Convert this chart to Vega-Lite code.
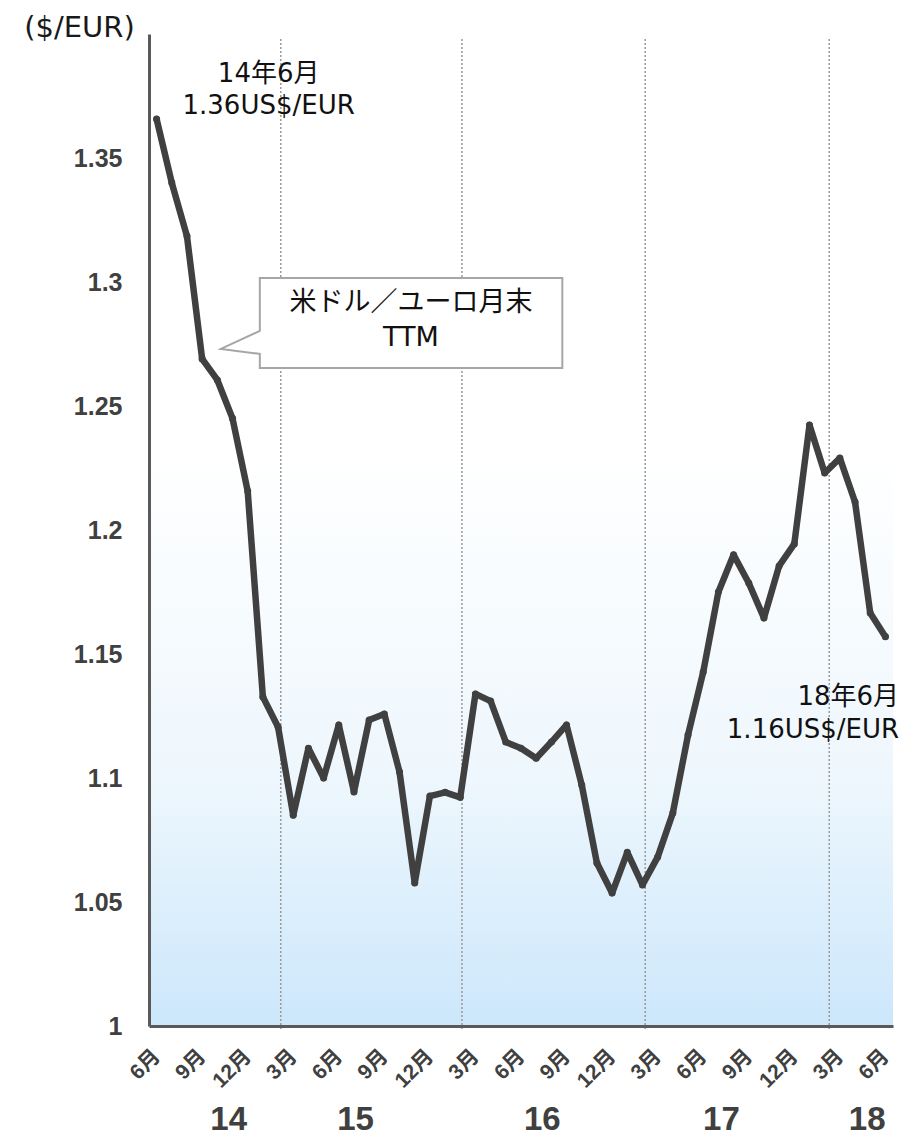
{
  "$schema": "https://vega.github.io/schema/vega-lite/v6.json",
  "width": 744,
  "height": 992,
  "autosize": {"type": "none"},
  "padding": {"left": 149, "top": 34, "right": 21, "bottom": 115},
  "background": "white",
  "config": {"view": {"stroke": null}},
  "datasets": {
    "rate": [
      {"ym": "2014-06", "i": 0, "v": 1.3657},
      {"ym": "2014-07", "i": 1, "v": 1.340},
      {"ym": "2014-08", "i": 2, "v": 1.3185},
      {"ym": "2014-09", "i": 3, "v": 1.269},
      {"ym": "2014-10", "i": 4, "v": 1.2605},
      {"ym": "2014-11", "i": 5, "v": 1.245},
      {"ym": "2014-12", "i": 6, "v": 1.2157},
      {"ym": "2015-01", "i": 7, "v": 1.1327},
      {"ym": "2015-02", "i": 8, "v": 1.1206},
      {"ym": "2015-03", "i": 9, "v": 1.085},
      {"ym": "2015-04", "i": 10, "v": 1.112},
      {"ym": "2015-05", "i": 11, "v": 1.100},
      {"ym": "2015-06", "i": 12, "v": 1.1214},
      {"ym": "2015-07", "i": 13, "v": 1.0944},
      {"ym": "2015-08", "i": 14, "v": 1.1234},
      {"ym": "2015-09", "i": 15, "v": 1.1258},
      {"ym": "2015-10", "i": 16, "v": 1.1024},
      {"ym": "2015-11", "i": 17, "v": 1.0577},
      {"ym": "2015-12", "i": 18, "v": 1.0927},
      {"ym": "2016-01", "i": 19, "v": 1.0942},
      {"ym": "2016-02", "i": 20, "v": 1.0922},
      {"ym": "2016-03", "i": 21, "v": 1.1339},
      {"ym": "2016-04", "i": 22, "v": 1.131},
      {"ym": "2016-05", "i": 23, "v": 1.1145},
      {"ym": "2016-06", "i": 24, "v": 1.112},
      {"ym": "2016-07", "i": 25, "v": 1.108},
      {"ym": "2016-08", "i": 26, "v": 1.1145},
      {"ym": "2016-09", "i": 27, "v": 1.1214},
      {"ym": "2016-10", "i": 28, "v": 1.0972},
      {"ym": "2016-11", "i": 29, "v": 1.0657},
      {"ym": "2016-12", "i": 30, "v": 1.0536},
      {"ym": "2017-01", "i": 31, "v": 1.070},
      {"ym": "2017-02", "i": 32, "v": 1.0569},
      {"ym": "2017-03", "i": 33, "v": 1.0681},
      {"ym": "2017-04", "i": 34, "v": 1.0859},
      {"ym": "2017-05", "i": 35, "v": 1.1173},
      {"ym": "2017-06", "i": 36, "v": 1.1427},
      {"ym": "2017-07", "i": 37, "v": 1.175},
      {"ym": "2017-08", "i": 38, "v": 1.190},
      {"ym": "2017-09", "i": 39, "v": 1.1786},
      {"ym": "2017-10", "i": 40, "v": 1.1645},
      {"ym": "2017-11", "i": 41, "v": 1.1855},
      {"ym": "2017-12", "i": 42, "v": 1.1944},
      {"ym": "2018-01", "i": 43, "v": 1.2423},
      {"ym": "2018-02", "i": 44, "v": 1.223},
      {"ym": "2018-03", "i": 45, "v": 1.229},
      {"ym": "2018-04", "i": 46, "v": 1.2113},
      {"ym": "2018-05", "i": 47, "v": 1.1665},
      {"ym": "2018-06", "i": 48, "v": 1.157}
    ],
    "grid": [{"i": 8.18}, {"i": 20.11}, {"i": 32.18}, {"i": 44.3}],
    "years": [
      {"yr": "14", "i": 4.75},
      {"yr": "15", "i": 13.1},
      {"yr": "16", "i": 25.4},
      {"yr": "17", "i": 37.2},
      {"yr": "18", "i": 46.8}
    ],
    "startNote": [
      {"t": "14年6月", "i": 7.38, "v": 1.3839},
      {"t": "1.36US$/EUR", "i": 7.38, "v": 1.371}
    ],
    "endNote": [
      {"t": "18年6月", "i": 48.9, "v": 1.1327},
      {"t": "1.16US$/EUR", "i": 48.9, "v": 1.1194}
    ],
    "callout": [
      {"t": "米ドル／ユーロ月末", "i": 16.75, "v": 1.2915},
      {"t": "TTM", "i": 16.75, "v": 1.2774}
    ]
  },
  "layer": [
    {
      "data": {"values": [{}]},
      "mark": {
        "type": "rect",
        "color": {
          "gradient": "linear",
          "x1": 0, "y1": 0, "x2": 0, "y2": 1,
          "stops": [
            {"offset": 0, "color": "#ffffff"},
            {"offset": 0.42, "color": "#ffffff"},
            {"offset": 0.75, "color": "#eef7fd"},
            {"offset": 1, "color": "#cce7fb"}
          ]
        }
      },
      "encoding": {
        "x": {"datum": -0.5, "type": "quantitative"},
        "x2": {"datum": 48.5},
        "y": {"datum": 1, "type": "quantitative"},
        "y2": {"datum": 1.4}
      }
    },
    {
      "data": {"name": "grid"},
      "mark": {"type": "rule", "color": "#9a9a9a", "strokeWidth": 1.5, "strokeDash": [2, 2]},
      "encoding": {
        "x": {"field": "i", "type": "quantitative"},
        "y": {"datum": 1.398, "type": "quantitative"},
        "y2": {"datum": 0.998}
      }
    },
    {
      "data": {"name": "rate"},
      "mark": {
        "type": "line",
        "color": "#404040",
        "strokeWidth": 6.5,
        "strokeJoin": "round",
        "strokeCap": "round",
        "point": {"filled": true, "size": 50, "color": "#404040"}
      },
      "encoding": {
        "x": {
          "field": "i",
          "type": "quantitative",
          "scale": {"domain": [-0.5, 48.5], "nice": false, "zero": false},
          "axis": {
            "title": null,
            "values": [0, 3, 6, 9, 12, 15, 18, 21, 24, 27, 30, 33, 36, 39, 42, 45, 48],
            "labelExpr": "['6月','9月','12月','3月'][(datum.value/3)%4]",
            "grid": false,
            "ticks": false,
            "domainColor": "#5a5a5a",
            "domainWidth": 3,
            "labelAngle": -45,
            "labelAlign": "right",
            "labelBaseline": "middle",
            "labelFont": "Liberation Sans, Noto Sans CJK JP",
            "labelFontSize": 21,
            "labelFontWeight": "bold",
            "labelColor": "#404040",
            "labelPadding": 27,
            "labelOverlap": false,
            "labelFlush": false,
            "zindex": 1
          }
        },
        "y": {
          "field": "v",
          "type": "quantitative",
          "scale": {"domain": [1, 1.4], "nice": false, "zero": false},
          "axis": {
            "title": "($/EUR)",
            "titleAngle": 0,
            "titleX": -70,
            "titleY": 2,
            "titleAlign": "center",
            "titleBaseline": "alphabetic",
            "titleFont": "DejaVu Sans",
            "titleFontSize": 29,
            "titleFontWeight": "normal",
            "titleColor": "#1a1a1a",
            "values": [1, 1.05, 1.1, 1.15, 1.2, 1.25, 1.3, 1.35],
            "format": ".2~f",
            "grid": false,
            "ticks": false,
            "domainColor": "#5a5a5a",
            "domainWidth": 3,
            "labelFont": "Liberation Sans",
            "labelFontSize": 25,
            "labelFontWeight": "bold",
            "labelColor": "#404040",
            "labelPadding": 27,
            "labelOverlap": false,
            "labelFlush": false,
            "zindex": 1
          }
        }
      }
    },
    {
      "data": {"values": [{}]},
      "mark": {
        "type": "point",
        "shape": "M -0.769 -0.263 L 1 -0.263 L 1 0.263 L -0.769 0.263 L -0.769 0.181 L -0.997 0.152 L -0.769 0.047 Z",
        "size": 116964,
        "filled": true,
        "fill": "#ffffff",
        "stroke": "#a6a6a6",
        "strokeWidth": 2,
        "opacity": 1
      },
      "encoding": {
        "x": {"datum": 15.46, "type": "quantitative"},
        "y": {"datum": 1.2835, "type": "quantitative"}
      }
    },
    {
      "data": {"name": "callout"},
      "mark": {"type": "text", "align": "center", "baseline": "middle", "font": "DejaVu Sans, Noto Sans CJK JP", "fontSize": 27, "color": "#111111"},
      "encoding": {
        "x": {"field": "i", "type": "quantitative"},
        "y": {"field": "v", "type": "quantitative"},
        "text": {"field": "t"}
      }
    },
    {
      "data": {"name": "startNote"},
      "mark": {"type": "text", "align": "center", "baseline": "middle", "font": "DejaVu Sans, Noto Sans CJK JP", "fontSize": 26, "color": "#111111"},
      "encoding": {
        "x": {"field": "i", "type": "quantitative"},
        "y": {"field": "v", "type": "quantitative"},
        "text": {"field": "t"}
      }
    },
    {
      "data": {"name": "endNote"},
      "mark": {"type": "text", "align": "right", "baseline": "middle", "font": "DejaVu Sans, Noto Sans CJK JP", "fontSize": 26, "color": "#111111"},
      "encoding": {
        "x": {"field": "i", "type": "quantitative"},
        "y": {"field": "v", "type": "quantitative"},
        "text": {"field": "t"}
      }
    },
    {
      "data": {"name": "years"},
      "mark": {"type": "text", "align": "center", "baseline": "middle", "font": "Liberation Sans", "fontSize": 33, "fontWeight": "bold", "color": "#404040"},
      "encoding": {
        "x": {"field": "i", "type": "quantitative"},
        "y": {"datum": 0.9621, "type": "quantitative"},
        "text": {"field": "yr"}
      }
    }
  ]
}
